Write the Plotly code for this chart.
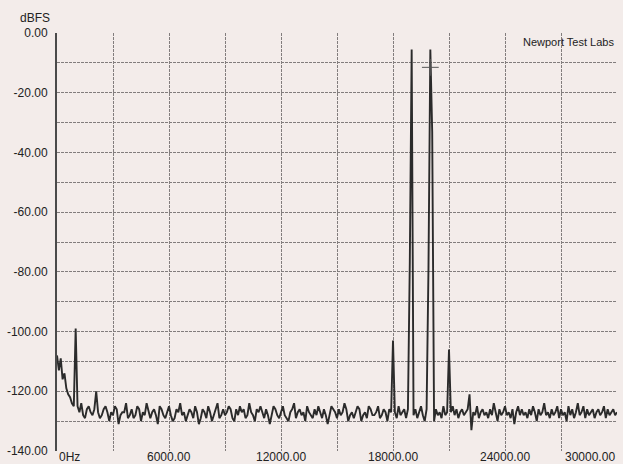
import plotly.graph_objects as go

# spectrum levels in dBFS, one value per 100 Hz bin from 0 Hz to 30 kHz
BIN_HZ = 100
levels = [
    -108, -113, -109, -116, -114, -119, -121, -122, -124, -125,   # 0k
    -99, -125, -127, -124, -128, -129, -126, -125, -127, -128,    # 1k
    -126, -120, -127, -129, -128, -126, -125, -127, -130, -127,   # 2k
    -128, -125, -126, -131, -128, -127, -127, -124, -129, -128,   # 3k
    -126, -129, -128, -125, -126, -130, -127, -128, -124, -127,   # 4k
    -129, -127, -126, -128, -131, -125, -126, -128, -129, -127,   # 5k
    -125, -128, -130, -129, -126, -127, -124, -128, -127, -130,   # 6k
    -128, -126, -127, -129, -125, -127, -131, -129, -126, -127,   # 7k
    -129, -125, -127, -130, -128, -126, -124, -129, -128, -126,   # 8k
    -128, -127, -125, -126, -129, -130, -126, -128, -125, -127,   # 9k
    -126, -129, -128, -124, -127, -128, -130, -126, -127, -125,   # 10k
    -127, -129, -126, -128, -131, -128, -125, -126, -128, -129,   # 11k
    -127, -125, -128, -129, -130, -127, -126, -124, -129, -127,   # 12k
    -126, -128, -127, -130, -125, -127, -128, -129, -126, -128,   # 13k
    -125, -127, -129, -126, -128, -131, -128, -125, -126, -127,   # 14k
    -129, -126, -128, -127, -124, -126, -130, -128, -127, -129,   # 15k
    -127, -125, -126, -130, -128, -127, -129, -125, -126, -128,   # 16k
    -128, -127, -125, -129, -128, -126, -127, -130, -126, -127,   # 17k
    -103, -127, -129, -125, -128, -127, -126, -129, -126, -77,    # 18k
    -5.5, -128, -126, -129, -127, -125, -128, -130, -126, -79,    # 19k
    -5.5, -33, -130, -126, -128, -127, -129, -125, -128, -127,    # 20k
    -106, -127, -125, -128, -126, -129, -127, -126, -128, -127,   # 21k
    -126, -121, -133, -127, -128, -125, -129, -127, -126, -128,   # 22k
    -127, -129, -126, -128, -124, -127, -130, -126, -128, -127,   # 23k
    -125, -128, -127, -129, -126, -131, -127, -125, -128, -126,   # 24k
    -128, -127, -129, -126, -128, -125, -127, -130, -126, -128,   # 25k
    -127, -124, -128, -127, -129, -126, -128, -127, -125, -129,   # 26k
    -126, -128, -127, -130, -125, -128, -126, -129, -127, -124,   # 27k
    -128, -127, -125, -129, -126, -128, -127, -126, -129, -127,   # 28k
    -126, -128, -127, -125, -129, -126, -128, -127, -126, -128,   # 29k
    -127,                                                         # 30k
]
freqs = [i * BIN_HZ for i in range(len(levels))]

cursor_hz = [20000]
cursor_db = [-11.5]

x_ticks = [0, 3000, 6000, 9000, 12000, 15000, 18000, 21000, 24000, 27000, 30000]
x_labels = {0: "0Hz", 6000: "6000.00", 12000: "12000.00", 18000: "18000.00",
            24000: "24000.00", 30000: "30000.00"}
y_ticks = [0, -10, -20, -30, -40, -50, -60, -70, -80, -90, -100, -110, -120, -130, -140]

BG = "#f3ecea"
GRID = "#827d7d"
TXT = "#222222"
FONT = "Liberation Sans"

fig = go.Figure()
fig.add_trace(go.Scatter(
    x=freqs, y=levels, mode="lines",
    line=dict(color="#2b2b2b", width=1.9),
    hoverinfo="skip", showlegend=False,
))
fig.add_trace(go.Scatter(
    x=cursor_hz, y=cursor_db, mode="markers",
    marker=dict(symbol="cross-thin", size=12, line=dict(color="#555555", width=1)),
    hoverinfo="skip", showlegend=False,
))

for f, txt in x_labels.items():
    anchor = "left" if f == x_ticks[0] else ("right" if f == x_ticks[-1] else "center")
    fig.add_annotation(x=f, xref="x", y=0, yref="paper", text=txt, showarrow=False,
                       xanchor=anchor, yanchor="top", yshift=3,
                       font=dict(family=FONT, size=12, color=TXT))

fig.add_annotation(x=0, xref="paper", y=1, yref="paper", text="dBFS", showarrow=False,
                   xanchor="right", yanchor="bottom", xshift=-5, yshift=6,
                   font=dict(family=FONT, size=12, color=TXT))
fig.add_annotation(x=1, xref="paper", y=1, yref="paper", text="Newport Test Labs",
                   showarrow=False, xanchor="right", yanchor="top", xshift=-1, yshift=-1,
                   font=dict(family=FONT, size=11, color=TXT))

fig.update_xaxes(
    range=[0, 30000], tickvals=x_ticks, showticklabels=False,
    showgrid=True, gridcolor=GRID, gridwidth=1, griddash="3px,1px",
    zeroline=False, showline=False, automargin=False,
)
fig.update_yaxes(
    range=[-140, 0], tickvals=y_ticks,
    ticktext=[f"{v:.2f}" if v % 20 == 0 else "" for v in y_ticks],
    showgrid=True, gridcolor=GRID, gridwidth=1, griddash="3px,1px",
    zeroline=False, showline=True, linecolor="#4a4a4a", linewidth=2,
    ticks="", ticklabelstandoff=5, automargin=False,
    tickfont=dict(family=FONT, size=12, color=TXT),
)
fig.update_layout(
    width=623, height=464,
    margin=dict(l=57, r=6, t=33, b=13, autoexpand=False),
    paper_bgcolor=BG, plot_bgcolor=BG,
    font=dict(family=FONT, size=12, color=TXT),
)

# the page body has a default 8px margin; drop it so the figure fills the window
fig.write_html("out.html", config={"displayModeBar": False},
               post_script="document.body.style.margin='0';"
                           "document.body.style.background='#f3ecea';")
